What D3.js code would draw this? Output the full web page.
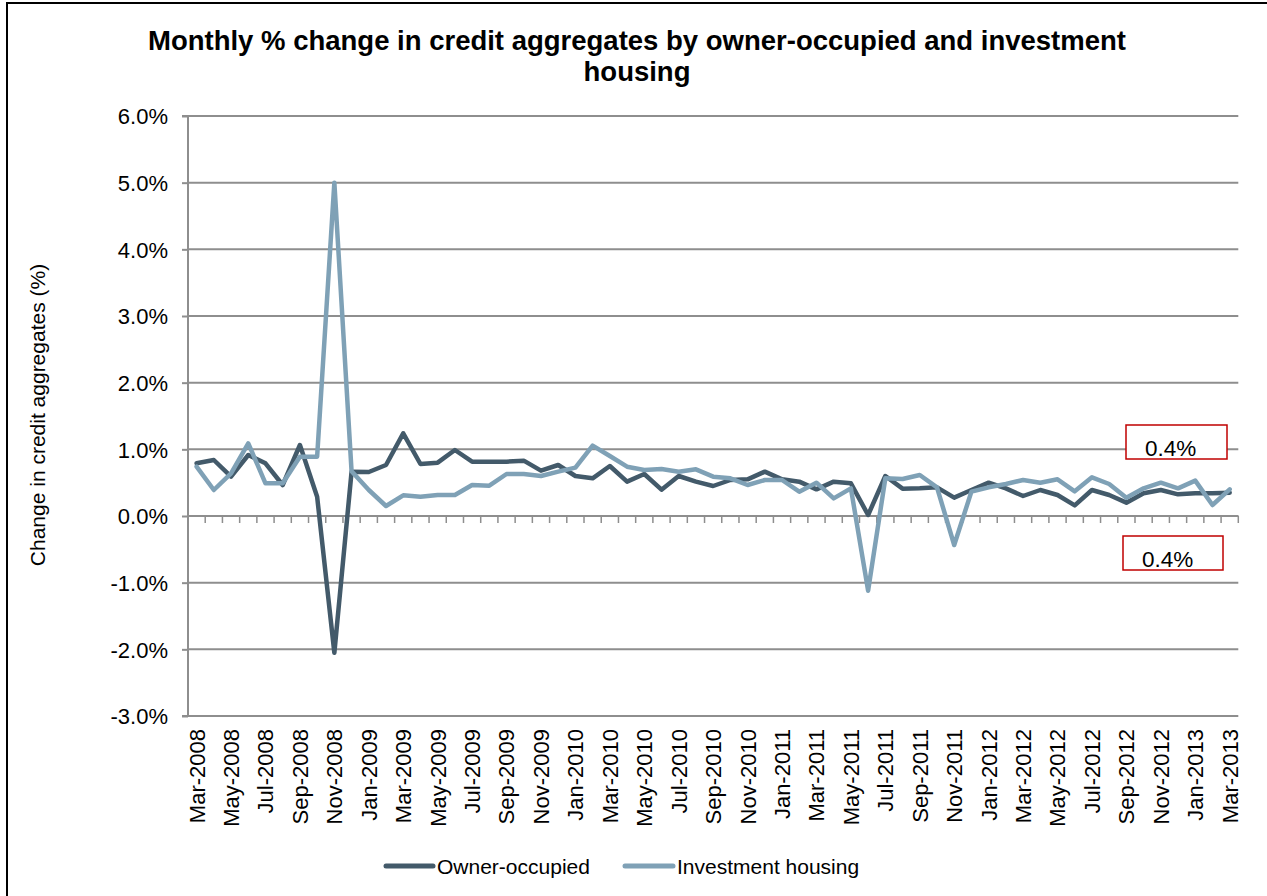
<!DOCTYPE html>
<html>
<head>
<meta charset="utf-8">
<script src="https://cdn.jsdelivr.net/npm/d3@7"></script>
<style>
  html, body { margin: 0; padding: 0; background: #fff; }
  svg text { font-family: "Liberation Sans", Arial, sans-serif; fill: #000; }
</style>
</head>
<body>
<svg id="chart" width="1267" height="896"></svg>
<script>
const months = ["Mar-2008","Apr-2008","May-2008","Jun-2008","Jul-2008","Aug-2008","Sep-2008","Oct-2008","Nov-2008","Dec-2008",
"Jan-2009","Feb-2009","Mar-2009","Apr-2009","May-2009","Jun-2009","Jul-2009","Aug-2009","Sep-2009","Oct-2009","Nov-2009","Dec-2009",
"Jan-2010","Feb-2010","Mar-2010","Apr-2010","May-2010","Jun-2010","Jul-2010","Aug-2010","Sep-2010","Oct-2010","Nov-2010","Dec-2010",
"Jan-2011","Feb-2011","Mar-2011","Apr-2011","May-2011","Jun-2011","Jul-2011","Aug-2011","Sep-2011","Oct-2011","Nov-2011","Dec-2011",
"Jan-2012","Feb-2012","Mar-2012","Apr-2012","May-2012","Jun-2012","Jul-2012","Aug-2012","Sep-2012","Oct-2012","Nov-2012","Dec-2012",
"Jan-2013","Feb-2013","Mar-2013"];

const ownerOccupied = [0.79,0.84,0.59,0.915,0.79,0.465,1.065,0.29,-2.05,0.665,0.66,0.765,1.24,
0.78,0.80,0.99,0.815,0.815,0.815,0.83,0.68,0.765,0.60,0.565,0.75,0.515,0.63,0.395,
0.60,0.515,0.45,0.54,0.55,0.665,0.55,0.515,0.40,0.515,0.49,0.015,0.60,0.41,
0.415,0.43,0.275,0.39,0.50,0.415,0.30,0.39,0.315,0.16,
0.39,0.315,0.20,0.34,0.39,0.325,0.34,0.34,0.35];

const investmentHousing = [0.74,0.39,0.64,1.09,0.49,0.49,0.89,0.89,5.0,0.67,0.39,0.15,0.31,
0.29,0.315,0.315,0.465,0.455,0.63,0.63,0.60,0.665,0.725,1.055,0.90,0.74,0.69,0.705,
0.665,0.70,0.59,0.565,0.465,0.54,0.54,0.365,0.50,0.265,0.415,-1.12,0.565,0.555,
0.615,0.43,-0.435,0.365,0.43,0.48,0.54,0.50,0.55,0.37,
0.58,0.48,0.275,0.415,0.50,0.415,0.53,0.165,0.40];

const yTicks = [-3,-2,-1,0,1,2,3,4,5,6];
const seriesNames = ["Owner-occupied","Investment housing"];
const seriesColors = ["#435a6a","#7fa1b6"];
const annotations = ["0.4%","0.4%"];
const titleLines = ["Monthly % change in credit aggregates by owner-occupied and investment","housing"];
const yTitle = "Change in credit aggregates (%)";

const svg = d3.select("#chart");
const L = 188, R = 1238.3, T = 116, B = 716;

// outer frame (top and left visible)
svg.append("rect").attr("x",7).attr("y",3).attr("width",1300).attr("height",1000)
  .attr("fill","none").attr("stroke","#000").attr("stroke-width",2);

const x = d3.scaleBand().domain(months).range([L, R]).padding(0);
const y = d3.scaleLinear().domain([-3, 6]).range([B, T]);
const cx = d => x(d) + x.bandwidth()/2;

// gridlines
svg.append("g").selectAll("line").data(yTicks).join("line")
  .attr("x1", L).attr("x2", R).attr("y1", d => y(d)).attr("y2", d => y(d))
  .attr("stroke", "#8e8e8e").attr("stroke-width", 2);

// y axis
const yAxis = d3.axisLeft(y).tickValues(yTicks).tickSize(6).tickPadding(14)
  .tickFormat(d => (d < 0 ? "-" : "") + Math.abs(d).toFixed(1) + "%");
const gy = svg.append("g").attr("transform", `translate(${L},0)`).call(yAxis);
gy.select(".domain").attr("stroke","#8e8e8e").attr("stroke-width",2).attr("d", `M-6,${T}H0V${B}H-6`);
gy.selectAll(".tick line").attr("stroke","#8e8e8e").attr("stroke-width",2);
gy.selectAll(".tick text").attr("font-size", 22).attr("font-family","Liberation Sans, Arial, sans-serif").attr("fill","#000").attr("dy","0.36em");

// zero axis with ticks at category boundaries
const z = y(0);
svg.append("line").attr("x1",L).attr("x2",R).attr("y1",z).attr("y2",z).attr("stroke","#8e8e8e").attr("stroke-width",2);
svg.append("g").selectAll("line").data(months).join("line")
  .attr("x1", d => x(d) + x.bandwidth()).attr("x2", d => x(d) + x.bandwidth())
  .attr("y1", z).attr("y2", z + 7).attr("stroke","#8e8e8e").attr("stroke-width",1.5);

// x labels (every other month)
svg.append("g").selectAll("text").data(months.filter((m,i) => i % 2 === 0)).join("text")
  .attr("transform", d => `translate(${cx(d)},${B + 13}) rotate(-90)`)
  .attr("text-anchor","end").attr("dy","0.36em").attr("font-size",22).text(d => d);

// lines
const line = d3.line().x((d,i) => cx(months[i])).y(d => y(d));
[ownerOccupied, investmentHousing].forEach((s, k) => {
  svg.append("path").datum(s).attr("d", line).attr("fill","none")
    .attr("stroke", seriesColors[k]).attr("stroke-width", 4.5)
    .attr("stroke-linejoin","round").attr("stroke-linecap","round");
});

// annotation boxes
const boxes = [{x:1126,y:425,w:101,h:34,tx:1145,ty:456},{x:1123,y:536,w:100,h:34,tx:1142,ty:567}];
boxes.forEach((b,i) => {
  svg.append("rect").attr("x",b.x).attr("y",b.y).attr("width",b.w).attr("height",b.h)
    .attr("fill","#fff").attr("stroke","#c00000").attr("stroke-width",1.5);
  svg.append("text").attr("x",b.tx).attr("y",b.ty).attr("font-size",22.5).text(annotations[i]);
});

// title
svg.append("g").selectAll("text").data(titleLines).join("text")
  .attr("x", 637).attr("y", (d,i) => 50 + i*31).attr("text-anchor","middle")
  .attr("font-size", 27.5).attr("font-weight","bold").text(d => d);

// y axis title
svg.append("text").attr("transform","translate(45,415) rotate(-90)").attr("text-anchor","middle")
  .attr("font-size",21).text(yTitle);

// legend
const leg = [{x1:386,x2:433,tx:437},{x1:625,x2:673,tx:677}];
leg.forEach((l,i) => {
  svg.append("line").attr("x1",l.x1).attr("x2",l.x2).attr("y1",866).attr("y2",866)
    .attr("stroke",seriesColors[i]).attr("stroke-width",5).attr("stroke-linecap","round");
  svg.append("text").attr("x",l.tx).attr("y",866).attr("dy","0.36em").attr("font-size",21).text(seriesNames[i]);
});
</script>
</body>
</html>
